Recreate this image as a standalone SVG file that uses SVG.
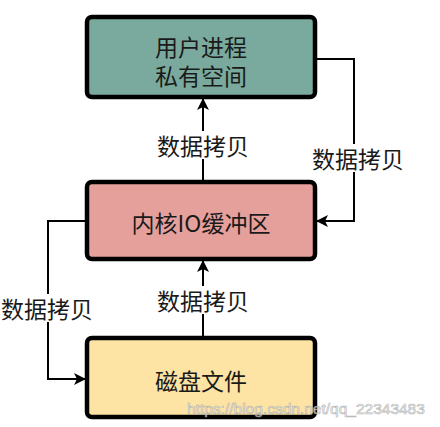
<svg xmlns="http://www.w3.org/2000/svg" width="440" height="427" viewBox="0 0 440 427">
<style>
.box{stroke:#000;stroke-width:4.5}
.t{font-family:"Noto Sans CJK SC","Noto Sans",sans-serif;font-size:23px;fill:#1a1a1a;text-anchor:middle;dominant-baseline:central}
.line{fill:none;stroke:#000;stroke-width:2}
.lbl{font-family:"Noto Sans CJK SC","Noto Sans",sans-serif;font-size:23px;fill:#1a1a1a;text-anchor:middle;dominant-baseline:central}
.wm{font-family:"Liberation Sans",Arial,sans-serif;font-size:15.5px;fill:#fff;stroke:#aaa;stroke-width:0.7;opacity:0.8}
</style>
<defs>
<marker id="ah" markerWidth="12" markerHeight="12" viewBox="0 0 12 12" refX="11" refY="6" orient="auto" markerUnits="userSpaceOnUse">
<path d="M0,0 L12,6 L0,12 L3,6 Z" fill="#000"/>
</marker>
</defs>
<rect width="440" height="427" fill="#fff"/>
<g id="connectors">
<line class="line" x1="203" y1="181" x2="203" y2="99" marker-end="url(#ah)"/>
<line class="line" x1="203" y1="337" x2="203" y2="261" marker-end="url(#ah)"/>
<polyline class="line" points="317,59 354,59 354,221 317,221" marker-end="url(#ah)"/>
<polyline class="line" points="85,221 48,221 48,379 85,379" marker-end="url(#ah)"/>
<rect x="150" y="131" width="106" height="28" fill="#fff"/>
<text class="lbl" x="203" y="145">数据拷贝</text>
<rect x="150" y="286" width="106" height="28" fill="#fff"/>
<text class="lbl" x="203" y="300">数据拷贝</text>
<rect x="308" y="144" width="100" height="28" fill="#fff"/>
<text class="lbl" x="358" y="158">数据拷贝</text>
<rect x="0" y="294" width="96" height="28" fill="#fff"/>
<text class="lbl" x="47" y="308">数据拷贝</text>
</g>
<g id="user">
<rect class="box" x="87" y="17" width="228" height="80" rx="5" fill="#7aaa9d"/>
<text class="t" x="201" y="46"><tspan x="201" y="46">用户进程</tspan><tspan x="201" y="75">私有空间</tspan></text>
</g>
<g id="kernel">
<rect class="box" x="87" y="182" width="228" height="77" rx="5" fill="#e6a09c"/>
<text class="t" x="201" y="222">内核IO缓冲区</text>
</g>
<g id="disk">
<rect class="box" x="87" y="338" width="228" height="79" rx="5" fill="#fde4a4"/>
<text class="t" x="201" y="380">磁盘文件</text>
</g>
<text class="wm" x="187" y="414">https://blog.csdn.net/qq_22343483</text>
</svg>
